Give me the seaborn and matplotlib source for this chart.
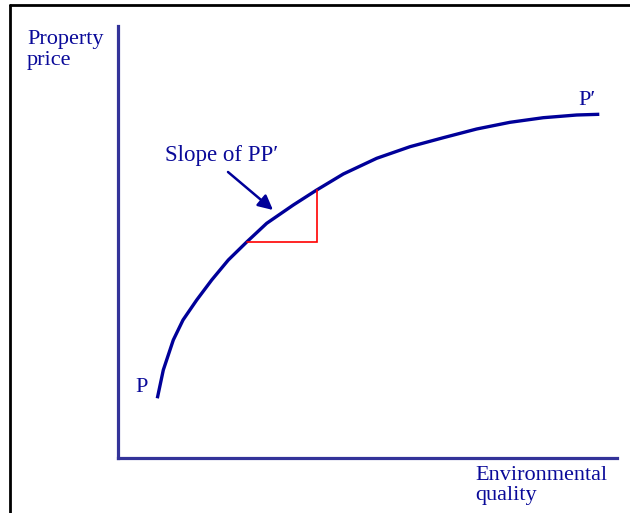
import matplotlib
matplotlib.use("Agg")
import matplotlib.pyplot as plt
from matplotlib.lines import Line2D
import numpy as np
import pandas as pd
import seaborn as sns

# Price curve P -> P' (environmental quality vs property price, arbitrary units)
quality = [3.93, 4.53, 5.53, 6.5, 7.87, 9.37, 11.03, 12.87, 14.87, 17.53,
           19.87, 22.53, 25.87, 29.2, 32.53, 35.87, 39.2, 42.53, 45.87, 48.13]
price = [5.97, 8.8, 11.8, 13.8, 15.8, 17.8, 19.8, 21.6, 23.47, 25.3,
         26.8, 28.4, 29.97, 31.13, 32.03, 32.9, 33.57, 34.03, 34.3, 34.37]

# Slope triangle: run and rise along the curve
tri_x = [12.87, 19.87, 19.87]
tri_y = [21.6, 21.6, 26.8]

# Arrow pointing at the curve (tail, head)
arrow_tail = (11.0, 28.6)
arrow_head = (15.5, 24.8)

x_label = ["Environmental", "quality"]
y_label = ["Property", "price"]
slope_label = "Slope of PP\u2032"
start_label = "P"
end_label = "P\u2032"

sns.set_theme(style="white")
plt.rcParams["font.family"] = ["Liberation Serif", "DejaVu Serif"]

W, H = 630, 513
fig = plt.figure(figsize=(W / 100, H / 100), dpi=100)
fig.patch.set_facecolor("white")

def fx(px):
    return px / W

def fy(py):
    return 1 - py / H

ax = fig.add_axes([fx(118), fy(458), fx(617) - fx(118), fy(26) - fy(458)])
ax.set_facecolor("white")
ax.set_xlim(0, 49.9)
ax.set_ylim(0, 43.2)

axis_color = "#333399"
curve_color = "#000099"
text_color = "#0a0a99"

for side in ["top", "right"]:
    ax.spines[side].set_visible(False)
for side in ["left", "bottom"]:
    ax.spines[side].set_color(axis_color)
    ax.spines[side].set_linewidth(2.3)
ax.set_xticks([])
ax.set_yticks([])

df = pd.DataFrame({"quality": quality, "price": price})
sns.lineplot(data=df, x="quality", y="price", sort=False, ax=ax,
             color=curve_color, linewidth=2.4, clip_on=False)
for line in ax.get_lines():
    line.set_solid_joinstyle("round")
    line.set_solid_capstyle("butt")
ax.plot(tri_x, tri_y, color="#ff0000", linewidth=1.2, solid_joinstyle="miter")

ax.annotate("", xy=arrow_head, xytext=arrow_tail,
            arrowprops=dict(arrowstyle="-|>", color=curve_color, lw=1.8,
                            mutation_scale=22, shrinkA=0, shrinkB=0))
ax.set_xlabel("")
ax.set_ylabel("")

fs = 16
fig.text(fx(27), fy(44), y_label[0], color=text_color, fontsize=fs, va="baseline", ha="left")
fig.text(fx(27), fy(65), y_label[1], color=text_color, fontsize=fs, va="baseline", ha="left")
fig.text(fx(475), fy(480), x_label[0], color=text_color, fontsize=fs, va="baseline", ha="left")
fig.text(fx(475), fy(500), x_label[1], color=text_color, fontsize=fs, va="baseline", ha="left")
fig.text(fx(165), fy(161), slope_label, color=text_color, fontsize=16.5, va="baseline", ha="left")
fig.text(fx(135), fy(392), start_label, color=text_color, fontsize=fs, va="baseline", ha="left")
fig.text(fx(578), fy(105), end_label, color=text_color, fontsize=fs, va="baseline", ha="left")

# Frame lines along the left and top edges
fig.add_artist(Line2D([fx(10), fx(10)], [0, fy(5)], color="black", linewidth=2.0,
                      transform=fig.transFigure))
fig.add_artist(Line2D([fx(10), 1], [fy(5), fy(5)], color="black", linewidth=2.0,
                      transform=fig.transFigure))

fig.savefig("out.png", dpi=100, facecolor="white")
